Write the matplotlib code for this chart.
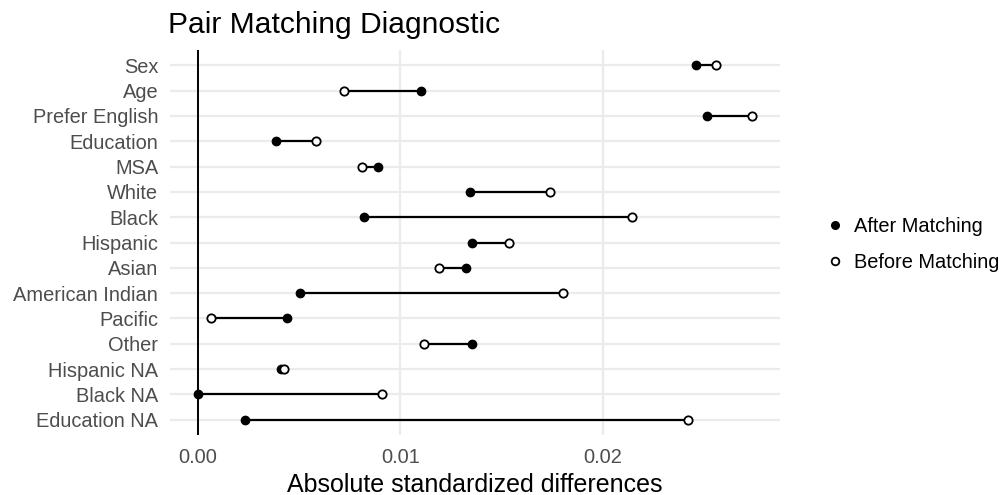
import numpy as np
import matplotlib.pyplot as plt
from matplotlib.lines import Line2D

plt.rcParams['font.family'] = ['Liberation Sans', 'DejaVu Sans']

# Covariates, top to bottom
variables = ["Sex", "Age", "Prefer English", "Education", "MSA", "White", "Black",
             "Hispanic", "Asian", "American Indian", "Pacific", "Other",
             "Hispanic NA", "Black NA", "Education NA"]

# Absolute standardized differences
after_match = [0.0246, 0.01104, 0.02515, 0.00386, 0.00891, 0.01342, 0.00822,
               0.01356, 0.01327, 0.00505, 0.00441, 0.01356, 0.00411, 0.0, 0.00233]
before_match = [0.0256, 0.00723, 0.02738, 0.00584, 0.00812, 0.01738, 0.02144,
                0.01535, 0.01193, 0.01802, 0.00064, 0.01119, 0.00426, 0.00911, 0.02421]

fig = plt.figure(figsize=(10.06, 4.95), dpi=100)
ax = fig.add_axes([170 / 1006, 60 / 495, 610 / 1006, 385 / 495])

ypos = np.arange(len(variables))
grid_col = "#EBEBEB"

# horizontal grid per variable, vertical grid at major ticks
for y in ypos:
    ax.axhline(y, color=grid_col, lw=1.6, zorder=0)
for xv in [0.0, 0.01, 0.02]:
    ax.axvline(xv, color=grid_col, lw=1.6, zorder=0)

ax.axvline(0, color="black", lw=1.4, zorder=1)

ax.hlines(ypos, after_match, before_match, color="black", lw=1.6, zorder=2)
ax.plot(after_match, ypos, "o", color="black", ms=6, zorder=3, ls="none")
ax.plot(before_match, ypos, "o", mfc="white", mec="black", mew=1.3, ms=6,
        zorder=3, ls="none")

lo = min(min(after_match), min(before_match))
hi = max(max(after_match), max(before_match))
pad = 0.05 * (hi - lo)
ax.set_xlim(lo - pad, hi + pad)
ax.set_ylim(len(variables) - 0.4, -0.6)

ax.set_xticks([0.0, 0.01, 0.02])
ax.set_xticklabels(["0.00", "0.01", "0.02"])
ax.set_yticks(ypos)
ax.set_yticklabels(variables)
ax.tick_params(axis="both", length=0, labelsize=14.4, labelcolor="#4D4D4D")
ax.tick_params(axis="x", pad=9.5)
ax.tick_params(axis="y", pad=8.5)
for s in ax.spines.values():
    s.set_visible(False)

ax.set_xlabel("Absolute standardized differences", fontsize=18, labelpad=4)
fig.text(168 / 1006, 1 - 33 / 495, "Pair Matching Diagnostic", fontsize=21.6,
         ha="left", va="baseline")

handles = [
    Line2D([], [], marker="o", ls="none", color="black", ms=5.5),
    Line2D([], [], marker="o", ls="none", mfc="white", mec="black", mew=1.3, ms=5.5),
]
fig.legend(handles, ["After Matching", "Before Matching"],
           loc="center left", bbox_to_anchor=(820 / 1006, 1 - 244 / 495),
           frameon=False, fontsize=14.4, handletextpad=0.2, labelspacing=0.85,
           handlelength=1.5, borderaxespad=0, borderpad=0)

fig.savefig("out.png", dpi=100)
